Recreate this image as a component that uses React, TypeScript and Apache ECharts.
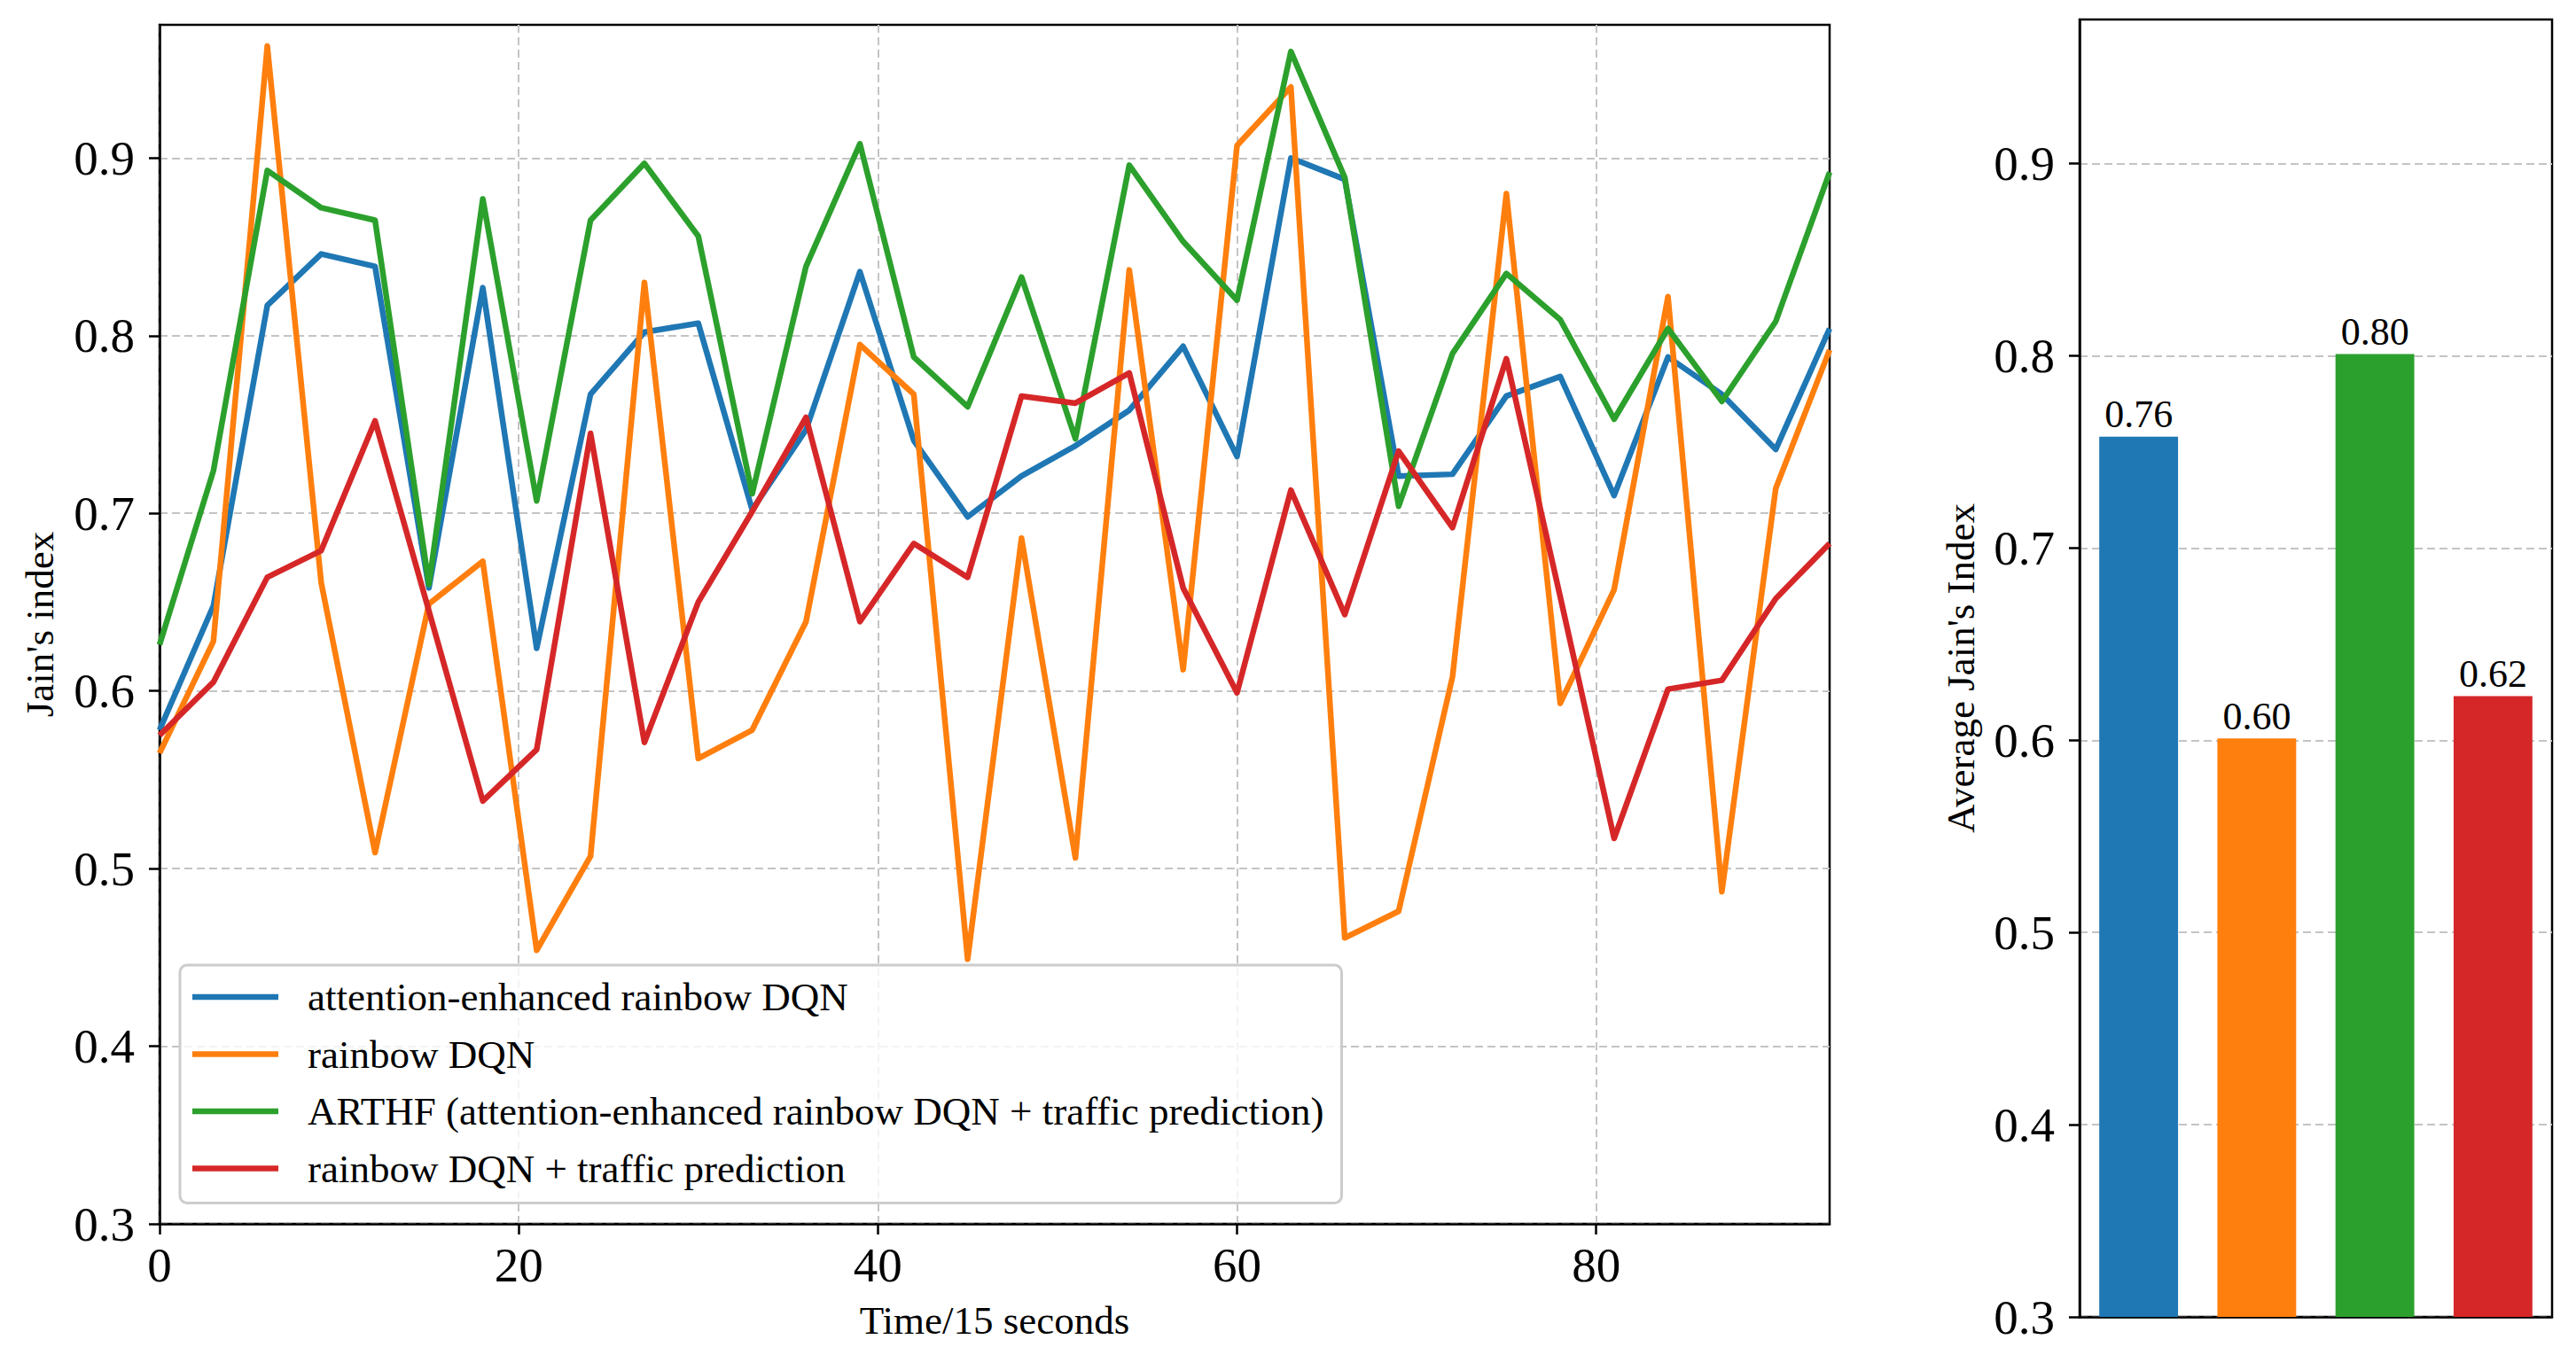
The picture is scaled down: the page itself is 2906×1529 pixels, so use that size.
import React, { useEffect, useRef } from "react";
import * as echarts from "echarts";

const timeSteps = [0, 3, 6, 9, 12, 15, 18, 21, 24, 27, 30, 33, 36, 39, 42, 45, 48, 51, 54, 57, 60, 63, 66, 69, 72, 75, 78, 81, 84, 87, 90, 93];

const attentionRainbow = [0.578, 0.648, 0.817, 0.846, 0.839, 0.658, 0.827, 0.624, 0.767, 0.802, 0.807, 0.702, 0.747, 0.836, 0.741, 0.698, 0.721, 0.738, 0.758, 0.794, 0.732, 0.900, 0.888, 0.721, 0.722, 0.766, 0.777, 0.710, 0.788, 0.767, 0.736, 0.804];
const rainbow = [0.565, 0.628, 0.963, 0.661, 0.509, 0.649, 0.673, 0.454, 0.507, 0.830, 0.562, 0.578, 0.639, 0.795, 0.767, 0.449, 0.686, 0.506, 0.837, 0.612, 0.907, 0.940, 0.461, 0.476, 0.608, 0.880, 0.593, 0.657, 0.822, 0.487, 0.714, 0.792];
const arthf = [0.626, 0.724, 0.893, 0.872, 0.865, 0.660, 0.877, 0.707, 0.865, 0.897, 0.856, 0.711, 0.839, 0.908, 0.788, 0.760, 0.833, 0.742, 0.896, 0.853, 0.820, 0.960, 0.889, 0.704, 0.790, 0.835, 0.809, 0.753, 0.804, 0.763, 0.808, 0.892];
const rainbowTraffic = [0.575, 0.605, 0.664, 0.679, 0.752, 0.645, 0.538, 0.567, 0.745, 0.571, 0.650, 0.701, 0.754, 0.639, 0.683, 0.664, 0.766, 0.762, 0.779, 0.658, 0.599, 0.713, 0.643, 0.735, 0.692, 0.787, 0.653, 0.517, 0.601, 0.606, 0.652, 0.683];

const seriesNames = [
  "attention-enhanced rainbow DQN",
  "rainbow DQN",
  "ARTHF (attention-enhanced rainbow DQN + traffic prediction)",
  "rainbow DQN + traffic prediction",
];
const seriesColors = ["#1f77b4", "#ff7f0e", "#2ca02c", "#d62728"];
const averageValues = [0.758, 0.601, 0.801, 0.623];

const yTicks = [0.3, 0.4, 0.5, 0.6, 0.7, 0.8, 0.9];
const xTicks = [0, 20, 40, 60, 80];

const FONT = "'Liberation Serif', 'Times New Roman', serif";

export default function App() {
  const ref = useRef<HTMLDivElement>(null);
  useEffect(() => {
    document.body.style.margin = "0";
    if (!ref.current) return;
    const chart = echarts.init(ref.current, null, { renderer: "svg" });
    const lineData = [attentionRainbow, rainbow, arthf, rainbowTraffic];
    const gridLine = { show: true, lineStyle: { color: "#c4c4c4", width: 2, type: [9, 5] as any } };
    const axisLine = { show: true, lineStyle: { color: "#000", width: 2.5 } };
    const tick = { show: true, length: 12, lineStyle: { color: "#000", width: 2.5 } };
    const yAxisCommon = {
      type: "value" as const,
      min: 0.3,
      max: 0.975,
      interval: 0.1,
      axisLine,
      axisTick: { ...tick, customValues: yTicks },
      axisLabel: {
        customValues: yTicks,
        formatter: (v: number) => v.toFixed(1),
        fontSize: 55,
        fontFamily: FONT,
        color: "#000",
        margin: 28,
      },
      splitLine: gridLine,
      nameLocation: "middle" as const,
      nameRotate: 90,
      nameTextStyle: { fontSize: 45, fontFamily: FONT, color: "#000" },
    };
    chart.setOption({
      animation: false,
      backgroundColor: "#fff",
      grid: [
        { left: 180, top: 28, width: 1884, height: 1353, show: true, borderColor: "#000", borderWidth: 2.5, backgroundColor: "transparent" },
        { left: 2346, top: 22, width: 533, height: 1464, show: true, borderColor: "#000", borderWidth: 2.5, backgroundColor: "transparent" },
      ],
      xAxis: [
        {
          gridIndex: 0,
          type: "value",
          min: 0,
          max: 93,
          interval: 20,
          axisLine,
          axisTick: { ...tick, customValues: xTicks },
          axisLabel: {
            customValues: xTicks,
            fontSize: 55,
            fontFamily: FONT,
            color: "#000",
            margin: 19,
          },
          splitLine: gridLine,
          name: "Time/15 seconds",
          nameLocation: "middle",
          nameGap: 86,
          nameTextStyle: { fontSize: 45, fontFamily: FONT, color: "#000" },
        },
        {
          gridIndex: 1,
          type: "category",
          data: seriesNames,
          axisLine,
          axisTick: { show: false },
          axisLabel: { show: false },
          splitLine: { show: false },
        },
      ],
      yAxis: [
        { ...yAxisCommon, gridIndex: 0, name: "Jain's index", nameGap: 113 },
        { ...yAxisCommon, gridIndex: 1, name: "Average Jain's Index", nameGap: 112 },
      ],
      legend: {
        data: seriesNames,
        orient: "vertical",
        left: 203,
        top: 1089,
        icon: "rect",
        itemWidth: 97,
        itemHeight: 6.5,
        itemGap: 18.5,
        padding: [13, 20, 16, 14],
        backgroundColor: "rgba(255,255,255,0.8)",
        borderColor: "#cccccc",
        borderWidth: 3,
        borderRadius: 8,
        textStyle: { fontSize: 45, fontFamily: FONT, color: "#000", lineHeight: 46, padding: [0, 0, 0, 28] },
      },
      series: [
        ...lineData.map((vals, i) => ({
          type: "line",
          name: seriesNames[i],
          xAxisIndex: 0,
          yAxisIndex: 0,
          data: timeSteps.map((t, j) => [t, vals[j]]),
          symbol: "none",
          color: seriesColors[i],
          lineStyle: { width: 6.5, color: seriesColors[i], join: "round" },
        })),
        {
          type: "bar",
          name: "Average Jain's Index",
          xAxisIndex: 1,
          yAxisIndex: 1,
          barWidth: "66.7%",
          data: averageValues.map((v, i) => ({ value: v, itemStyle: { color: seriesColors[i] } })),
          label: {
            show: true,
            position: "top",
            distance: 3,
            formatter: (p: any) => Number(p.value).toFixed(2),
            fontSize: 44,
            fontFamily: FONT,
            color: "#000",
          },
        },
      ],
    });
    return () => chart.dispose();
  }, []);
  return <div ref={ref} style={{ width: 2906, height: 1529 }} />;
}
